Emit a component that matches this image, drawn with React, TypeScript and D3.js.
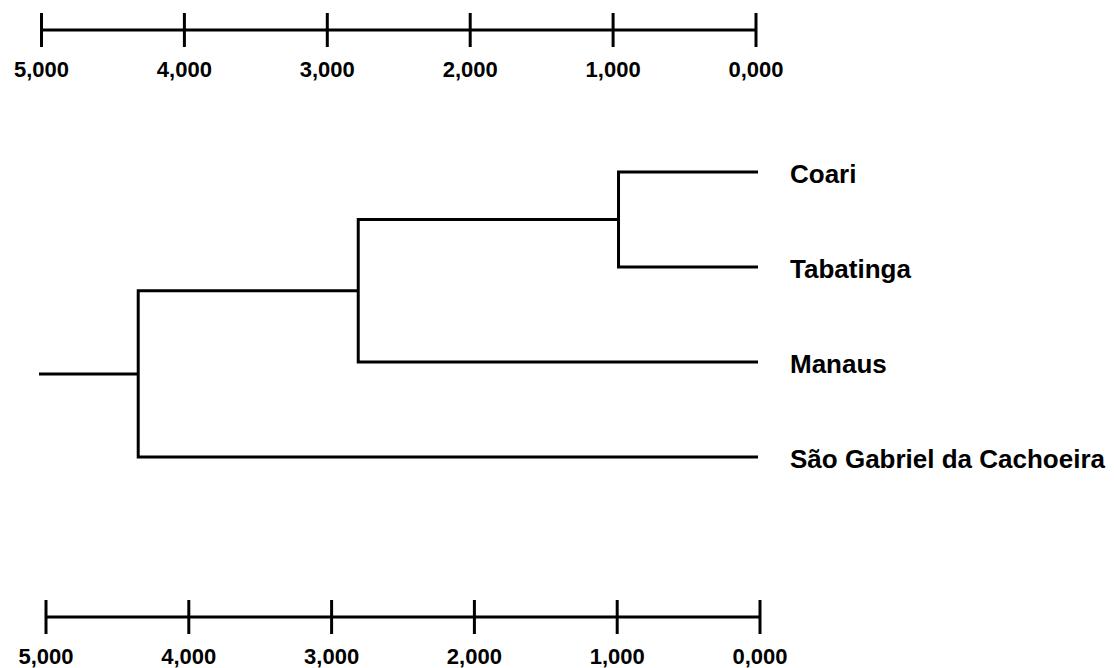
import React from 'react';
import * as d3 from 'd3';

// leaves, top to bottom
const leaves = ['Coari', 'Tabatinga', 'Manaus', 'São Gabriel da Cachoeira'];
// merges, scipy style: index < 4 is a leaf, index >= 4 is merge (index - 4)
const mergeLeft = [0, 4, 5];
const mergeRight = [1, 2, 3];
const mergeHeight = [0.97, 2.78, 4.31];
const rootTip = 5.0;

const tickValues = [5, 4, 3, 2, 1, 0];

const W = 1114;
const H = 668;

const fmt = d3
  .formatLocale({ decimal: ',', thousands: '.', grouping: [3], currency: ['', ''] })
  .format('.3f');

function ScaleBar({ x, y }: { x: d3.ScaleLinear<number, number>; y: number }) {
  const [x0, x1] = x.range();
  return (
    <g>
      <line x1={x0} x2={x1} y1={y} y2={y} stroke="#000" strokeWidth={3} />
      {tickValues.map((t) => (
        <g key={t}>
          <line x1={x(t)} x2={x(t)} y1={y - 17} y2={y + 17} stroke="#000" strokeWidth={3} />
          <text
            x={x(t)}
            y={y + 47}
            textAnchor="middle"
            fontFamily="'Liberation Sans', Arial, sans-serif"
            fontWeight="bold"
            fontSize={22}
            fill="#000"
          >
            {fmt(t)}
          </text>
        </g>
      ))}
    </g>
  );
}

export default function App() {
  const xTop = d3.scaleLinear([5, 0], [41.5, 756]);
  const xBottom = d3.scaleLinear([5, 0], [46, 760]);
  const xTree = d3.scaleLinear([5, 0], [39, 758]);
  const yLeaf = d3.scalePoint<string>(leaves, [172, 457]);

  // node positions
  const pos: { x: number; y: number }[] = leaves.map((l) => ({ x: xTree(0), y: yLeaf(l) as number }));
  const paths: string[] = [];
  mergeHeight.forEach((h, k) => {
    const a = pos[mergeLeft[k]];
    const b = pos[mergeRight[k]];
    const xm = xTree(h);
    const p = d3.path();
    p.moveTo(a.x, a.y);
    p.lineTo(xm, a.y);
    p.lineTo(xm, b.y);
    p.lineTo(b.x, b.y);
    paths.push(p.toString());
    pos.push({ x: xm, y: (a.y + b.y) / 2 });
  });
  const root = pos[pos.length - 1];
  const stub = d3.path();
  stub.moveTo(xTree(rootTip), root.y);
  stub.lineTo(root.x, root.y);
  paths.push(stub.toString());

  return (
    <svg
      width={W}
      height={H}
      style={{ position: 'absolute', left: 0, top: 0, background: '#fff' }}
    >
      <ScaleBar x={xTop} y={30} />
      <g fill="none" stroke="#000" strokeWidth={3} strokeLinejoin="miter" strokeLinecap="butt">
        {paths.map((d, i) => (
          <path key={i} d={d} />
        ))}
      </g>
      {leaves.map((l) => (
        <text
          key={l}
          x={xTree(0) + 32}
          y={(yLeaf(l) as number) + 11}
          fontFamily="'Liberation Sans', Arial, sans-serif"
          fontWeight="bold"
          fontSize={26}
          fill="#000"
        >
          {l}
        </text>
      ))}
      <ScaleBar x={xBottom} y={617} />
    </svg>
  );
}
